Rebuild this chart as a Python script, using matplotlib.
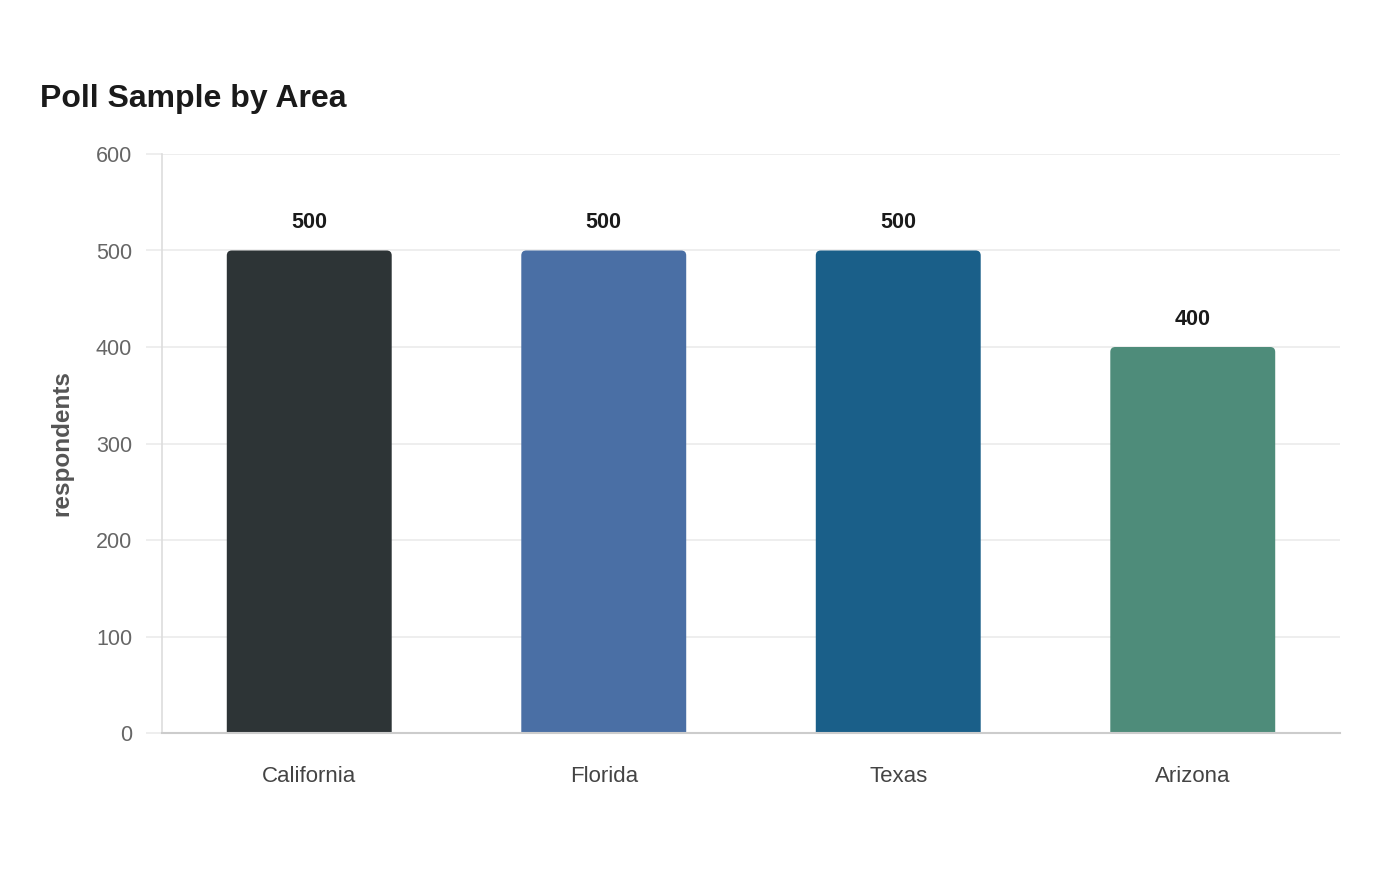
import matplotlib.pyplot as plt
from matplotlib.patches import FancyBboxPatch

plt.rcParams['font.family'] = ['Liberation Sans', 'DejaVu Sans']

areas = ['California', 'Florida', 'Texas', 'Arizona']
respondents = [500, 500, 500, 400]
colors = ['#2d3436', '#4a6fa5', '#1a5f89', '#4e8c7a']
yticks = [0, 100, 200, 300, 400, 500, 600]

fig = plt.figure(figsize=(14, 8.8), dpi=100)
ax = fig.add_axes([162 / 1400, 1 - 733 / 880, 1178 / 1400, 579 / 880])

x = list(range(len(areas)))
width = 0.56
bars = ax.bar(x, respondents, width=width, color='none', zorder=2)

ax.set_xlim(-0.5, len(areas) - 0.5)
ax.set_ylim(0, 600)

# rounded top corners: figure out data units per pixel so the corners stay circular
px_x = 1178 / (len(areas))          # pixels per x unit
px_y = 579 / 600                    # pixels per y unit
radius_px = 5
for b, c in zip(bars, colors):
    p = FancyBboxPatch((b.get_x(), -20), b.get_width(), b.get_height() + 20,
                       boxstyle='round,pad=0,rounding_size=%f' % (radius_px / px_x),
                       mutation_aspect=px_x / px_y,
                       facecolor=c, edgecolor='none', zorder=2)
    ax.add_patch(p)

for xi, v in zip(x, respondents):
    ax.annotate(str(v), (xi, v), xytext=(0, 12.5), textcoords='offset points',
                ha='center', va='bottom', fontsize=15.5, fontweight='bold', color='#1a1a1a')

ax.set_yticks(yticks)
ax.set_xticks(x)
ax.set_xticklabels(areas)
ax.grid(axis='y', color='#ebebeb', linewidth=1.2, zorder=0)
ax.set_axisbelow(True)

ax.tick_params(axis='y', length=11.5, width=1.2, color='#ebebeb', pad=10,
               labelsize=15.5, labelcolor='#666666')
ax.tick_params(axis='x', length=0, pad=23.5, labelsize=16, labelcolor='#444444')

for s in ['top', 'right']:
    ax.spines[s].set_visible(False)
ax.spines['left'].set_color('#dddddd')
ax.spines['left'].set_linewidth(1.2)
ax.spines['bottom'].set_color('#cccccc')
ax.spines['bottom'].set_linewidth(1.5)
ax.spines['bottom'].set_zorder(3)

fig.text(62 / 1400, 1 - 443 / 880, 'respondents', rotation=90, ha='center', va='center',
         fontsize=17.5, fontweight='bold', color='#555555')
fig.text(40 / 1400, 1 - 107 / 880, 'Poll Sample by Area', ha='left', va='baseline',
         fontsize=23, fontweight='bold', color='#1a1a1a')

fig.savefig('out.png', dpi=100)
